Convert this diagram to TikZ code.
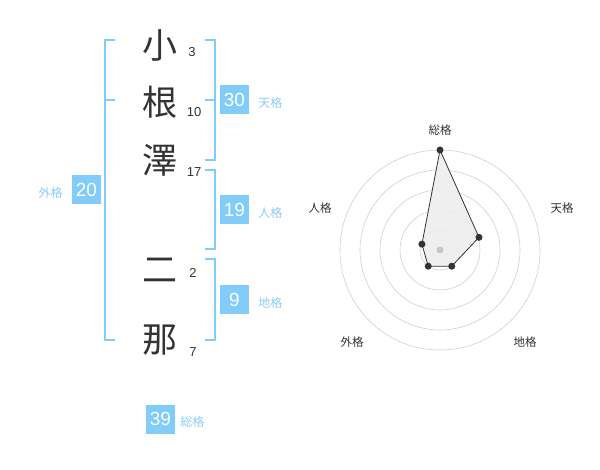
\documentclass[tikz,border=0pt]{standalone}
\usepackage{fontspec}
\setmainfont{Liberation Sans}
\newfontfamily\jp{Noto Sans CJK JP}
\usetikzlibrary{positioning}

\definecolor{kakublue}{HTML}{82CCFA}
\definecolor{kakutext}{HTML}{8CCEF2}
\definecolor{inkgray}{HTML}{333333}
\definecolor{ringgray}{HTML}{CFCFCF}

\tikzset{
  moji/.style={font=\jp\fontsize{35}{35}\selectfont, text=inkgray, inner sep=0pt},
  kakusu/.style={font=\fontsize{13}{13}\selectfont, text=inkgray, inner sep=0pt},
  bracket/.style={draw=kakublue, line width=2pt},
  numbox/.style={fill=kakublue, text=white, font=\fontsize{19}{19}\selectfont,
    minimum width=29pt, minimum height=29pt, inner sep=0pt},
  kakulabel/.style={font=\jp\fontsize{12}{12}\selectfont, text=kakutext, inner sep=0pt, yshift=-3pt},
  ring/.style={draw=ringgray, line width=0.6pt},
  axislabel/.style={font=\jp\fontsize{11.5}{11.5}\selectfont, text=inkgray, inner sep=0pt},
  dot/.style={circle, fill=inkgray, inner sep=0pt, minimum size=7pt}
}

\begin{document}
\begin{tikzpicture}[x=1pt, y=-1pt]
  % Canvas (600 x 470)
  \useasboundingbox (0,0) rectangle (600,470);

  % Name characters and stroke counts
  \node[moji] (c1) at (160,45)  {小};
  \node[moji] (c2) at (160,102) {根};
  \node[moji] (c3) at (160,160) {澤};
  \node[moji] (c4) at (160,270) {二};
  \node[moji] (c5) at (160,340) {那};
  \node[kakusu] (n1) at (192,52)  {3};
  \node[kakusu] (n2) at (194,112) {10};
  \node[kakusu] (n3) at (194,172) {17};
  \node[kakusu] (n4) at (193,273) {2};
  \node[kakusu] (n5) at (193,352) {7};

  % Brackets
  \draw[bracket] (115,40) -- (105,40) -- (105,340) -- (115,340);
  \draw[bracket] (105,100) -- (115,100);
  \draw[bracket] (205,40) -- (215,40) -- (215,160) -- (205,160);
  \draw[bracket] (205,100) -- (215,100);
  \draw[bracket] (205,170) -- (215,170) -- (215,249) -- (205,249);
  \draw[bracket] (205,259) -- (215,259) -- (215,340) -- (205,340);

  % Fortune boxes
  \node[numbox] (ten) at (234.5,100) {30};
  \node[kakulabel, right=9pt of ten] {天格};
  \node[numbox] (jin) at (234.5,210) {19};
  \node[kakulabel, right=9pt of jin] {人格};
  \node[numbox] (chi) at (234.5,300) {9};
  \node[kakulabel, right=9pt of chi] {地格};
  \node[numbox] (gai) at (86.5,190) {20};
  \node[kakulabel, left=9pt of gai] {外格};
  \node[numbox] (sou) at (160.5,419) {39};
  \node[kakulabel, right=5pt of sou] {総格};

  % Radar chart
  \begin{scope}[shift={(440,250)}, yscale=-1]
    \foreach \r in {20,40,60,80,100}
      \draw[ring] (0,0) circle (\r);
    \fill[black!7, opacity=0.9] (90:100) -- (18:41) -- (-54:20) -- (-126:20) -- (162:19) -- cycle;
    \draw[inkgray, line width=0.8pt] (90:100) -- (18:41) -- (-54:20) -- (-126:20) -- (162:19) -- cycle;
    \fill[black!22] (0,0) circle (3.5);
    \node[dot] (p1) at (90:100) {};
    \node[dot] (p2) at (18:41) {};
    \node[dot] (p3) at (-54:20) {};
    \node[dot] (p4) at (-126:20) {};
    \node[dot] (p5) at (162:19) {};
  \end{scope}
  \node[axislabel] (a1) at (440,130) {総格};
  \node[axislabel] (a2) at (562,208) {天格};
  \node[axislabel] (a3) at (525,342) {地格};
  \node[axislabel] (a4) at (352,342) {外格};
  \node[axislabel] (a5) at (320,208) {人格};
\end{tikzpicture}
\end{document}
